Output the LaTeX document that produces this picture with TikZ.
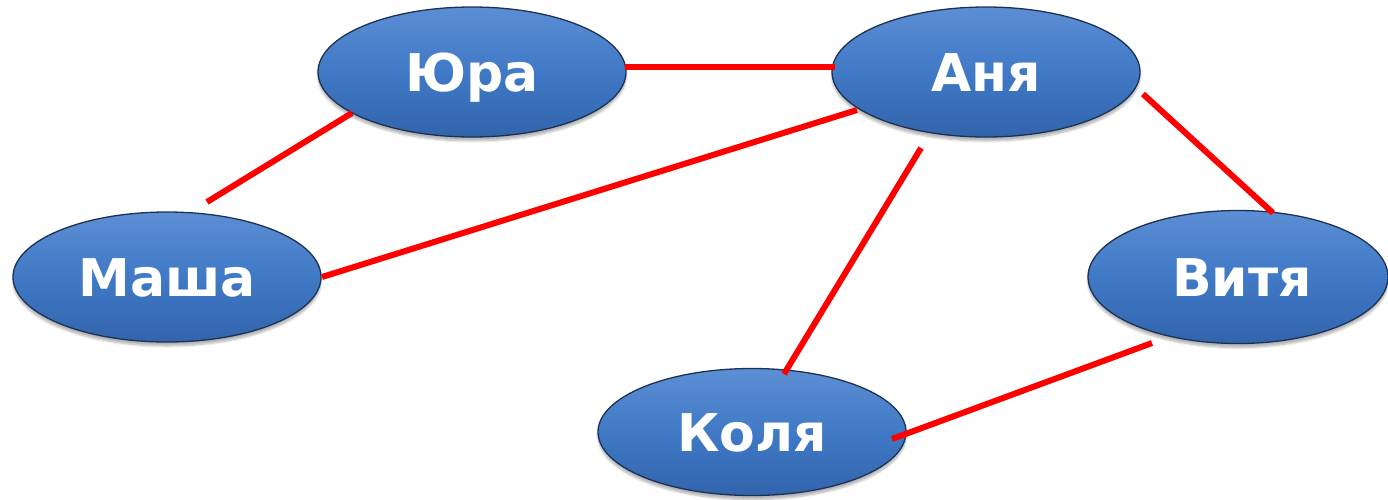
\documentclass[tikz,border=0pt]{standalone}
\usepackage{fontspec}
\setmainfont{DejaVu Sans}
\usetikzlibrary{shapes.geometric,shadows.blur,calc}
\definecolor{elltop}{RGB}{92,142,212}
\definecolor{ellmid}{RGB}{64,121,198}
\definecolor{ellbot}{RGB}{50,100,172}
\definecolor{ellline}{RGB}{28,50,85}
\tikzset{
  person/.style={ellipse, draw=ellline, line width=1.3pt,
    top color=elltop, bottom color=ellbot, middle color=ellmid,
    minimum width=308pt, minimum height=130pt, inner sep=0pt,
    text=white, font=\fontsize{52}{52}\selectfont\bfseries,
    text height=38pt, text depth=0pt,
    blur shadow={shadow xshift=0pt, shadow yshift=-4pt, shadow opacity=30, shadow blur steps=6}},
  link/.style={draw=red, line width=6pt}
}
\begin{document}
\begin{tikzpicture}[x=1pt,y=-1pt]
\useasboundingbox (0,0) rectangle (1388,499);
\node[person] (yura) at (472,72) {Юра};
\node[person] (anya) at (986,72) {Аня};
\node[person] (masha) at (167,277) {Маша};
\node[person, minimum width=300pt, minimum height=133pt] (vitya) at (1238,277) {\hspace*{8pt}Витя};
\node[person, minimum height=127pt] (kolya) at (752,432) {Коля};
\draw[link] ($(yura)+(153,-5)$) -- ($(anya)+(-151,-5)$);
\draw[link] ($(masha)+(40,-75)$) -- ($(yura)+(-120,41)$);
\draw[link] ($(masha)+(155,0)$) -- ($(anya)+(-129,38)$);
\draw[link] ($(anya)+(-65,76)$) -- ($(kolya)+(32,-58)$);
\draw[link] ($(anya)+(157,22)$) -- ($(vitya)+(35,-64)$);
\draw[link] ($(kolya)+(140,7)$) -- ($(vitya)+(-86,66)$);
\end{tikzpicture}
\end{document}
